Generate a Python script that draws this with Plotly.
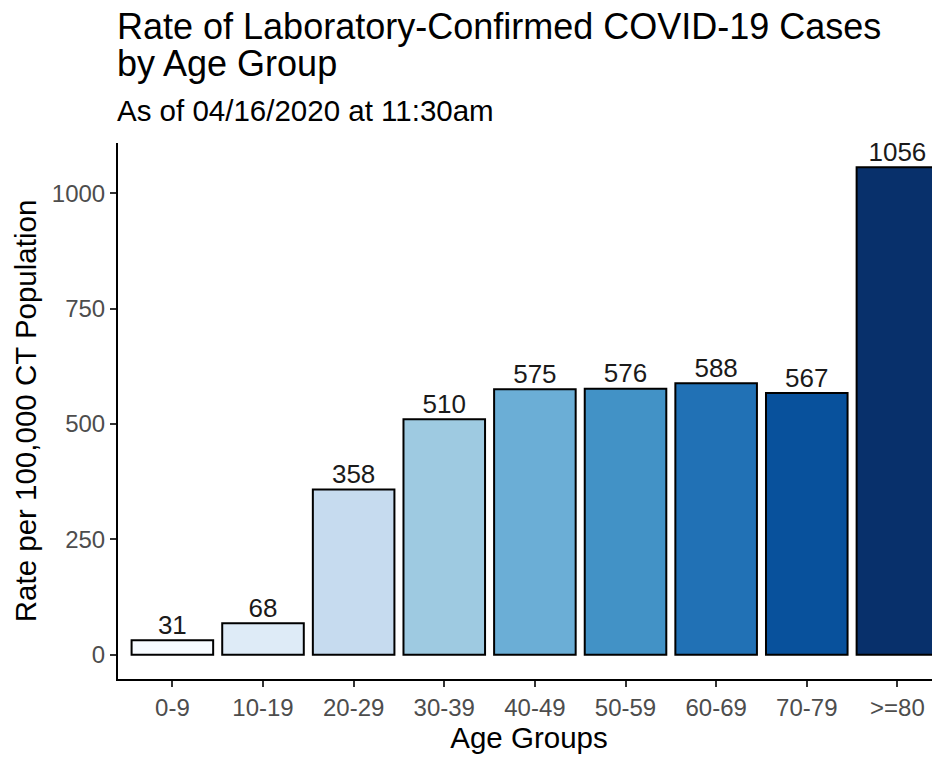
import plotly.graph_objects as go

# Данные: уровень заболеваемости на 100 000 населения по возрастным группам
age_groups = ["0-9", "10-19", "20-29", "30-39", "40-49", "50-59", "60-69", "70-79", ">=80"]
rates = [31, 68, 358, 510, 575, 576, 588, 567, 1056]
bar_colors = ["#F7FBFF", "#DEEBF7", "#C6DBEF", "#9ECAE1", "#6BAED6",
              "#4292C6", "#2171B5", "#08519C", "#08306B"]
y_ticks = [0, 250, 500, 750, 1000]

FONT = "Liberation Sans, Arial, sans-serif"

# Страница имеет отступ body 8px, поэтому фигура чуть меньше окна
W, H = 932, 749
M_L, M_R, M_T, M_B = 110, 0, 135, 78
plot_h = H - M_T - M_B
SCREEN_BOTTOM = 679  # нижняя граница области построения на экране


def py(pix):
    """Пиксель экрана по вертикали -> координата paper"""
    return (SCREEN_BOTTOM - pix) / plot_h


fig = go.Figure()

fig.add_trace(go.Bar(
    x=age_groups,
    y=rates,
    width=0.9,
    marker=dict(color=bar_colors, line=dict(color="black", width=2)),
    hoverinfo="x+y",
))

# Подписи значений над столбцами
fig.add_trace(go.Scatter(
    x=age_groups,
    y=rates,
    mode="text",
    text=[str(r) for r in rates],
    textposition="top center",
    textfont=dict(family=FONT, size=26, color="#1a1a1a"),
    cliponaxis=False,
    hoverinfo="skip",
))

ymax = max(rates)
fig.update_yaxes(
    range=[-0.05 * ymax, 1.05 * ymax],
    tickvals=y_ticks,
    ticks="outside", ticklen=6, tickwidth=2, tickcolor="#333333",
    tickfont=dict(family=FONT, size=24, color="#4D4D4D"),
    showline=True, linecolor="black", linewidth=2,
    showgrid=False, zeroline=False, automargin=False,
    title=dict(text="Rate per 100,000 CT Population",
               font=dict(family=FONT, size=29.5, color="black"), standoff=6),
)

fig.update_xaxes(
    range=[-0.6, 8.47],
    ticks="outside", ticklen=6, tickwidth=2, tickcolor="#333333",
    tickfont=dict(family=FONT, size=24, color="#4D4D4D"),
    showline=True, linecolor="black", linewidth=2,
    showgrid=False, automargin=False,
    title=dict(text="Age Groups", font=dict(family=FONT, size=29.5, color="black"), standoff=8),
)

# Заголовок и подзаголовок
fig.add_annotation(text="Rate of Laboratory-Confirmed COVID-19 Cases", xref="paper", yref="paper",
                   x=0, y=py(27), xanchor="left", yanchor="middle", showarrow=False, xshift=-3,
                   font=dict(family=FONT, size=36, color="black"))
fig.add_annotation(text="by Age Group", xref="paper", yref="paper",
                   x=0, y=py(63), xanchor="left", yanchor="middle", showarrow=False, xshift=-3,
                   font=dict(family=FONT, size=36, color="black"))
fig.add_annotation(text="As of 04/16/2020 at 11:30am", xref="paper", yref="paper",
                   x=0, y=py(110), xanchor="left", yanchor="middle", showarrow=False, xshift=-3,
                   font=dict(family=FONT, size=29.5, color="black"))

fig.update_layout(
    width=W, height=H,
    margin=dict(l=M_L, r=M_R, t=M_T, b=M_B, autoexpand=False),
    plot_bgcolor="white", paper_bgcolor="white",
    showlegend=False,
    bargap=0.1,
)

fig.write_html("out.html")
